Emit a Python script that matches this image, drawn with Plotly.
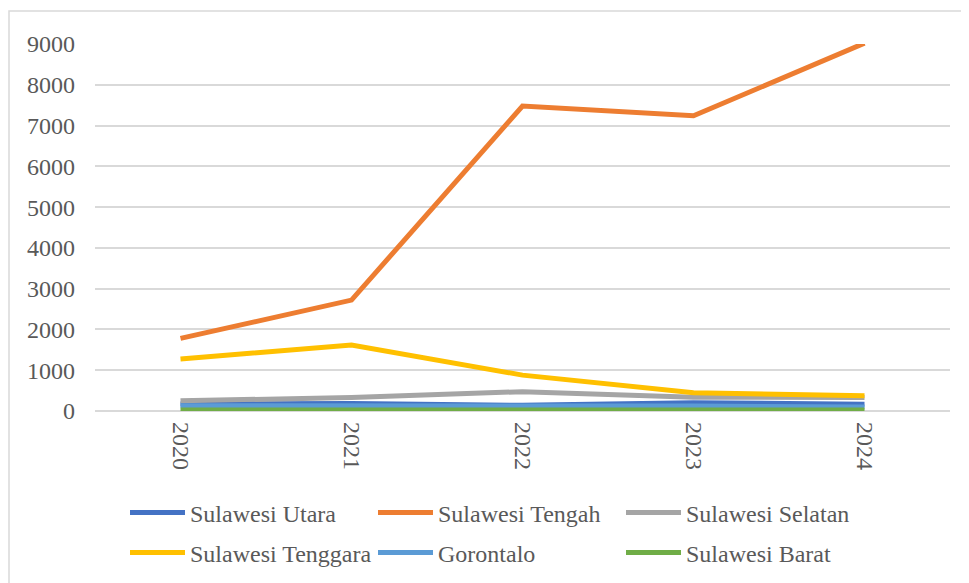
import plotly.graph_objects as go

years = ["2020", "2021", "2022", "2023", "2024"]

sulawesi_utara = [170, 185, 140, 205, 165]
sulawesi_tengah = [1780, 2720, 7480, 7240, 9020]
sulawesi_selatan = [250, 330, 475, 340, 330]
sulawesi_tenggara = [1275, 1620, 880, 450, 375]
gorontalo = [130, 130, 150, 120, 100]
sulawesi_barat = [25, 25, 25, 25, 25]

series = [
    ("Sulawesi Utara", sulawesi_utara, "#4472C4", "legend"),
    ("Sulawesi Tengah", sulawesi_tengah, "#ED7D31", "legend"),
    ("Sulawesi Selatan", sulawesi_selatan, "#A5A5A5", "legend"),
    ("Sulawesi Tenggara", sulawesi_tenggara, "#FFC000", "legend2"),
    ("Gorontalo", gorontalo, "#5B9BD5", "legend2"),
    ("Sulawesi Barat", sulawesi_barat, "#70AD47", "legend2"),
]

fig = go.Figure()
for name, vals, color, leg in series:
    fig.add_trace(go.Scatter(x=years, y=vals, name=name, mode="lines", legend=leg,
                             line=dict(color=color, width=5)))

SERIF = "Liberation Serif"
GREY = "#595959"


def serif_font():
    return dict(family=SERIF, size=24, color=GREY)


def legend_box(y_px):
    # one legend per row so the row spacing matches the original
    return dict(
        orientation="h",
        x=(125 - 95) / 855, y=(411 - y_px) / 367,
        xanchor="left", yanchor="middle",
        entrywidth=178, entrywidthmode="pixels",
        itemwidth=55,
        font=serif_font(),
        bgcolor="rgba(0,0,0,0)",
    )


fig.update_layout(
    template="none",
    width=969, height=583,
    margin=dict(l=87, r=27, t=36, b=180, autoexpand=False),
    paper_bgcolor="white",
    plot_bgcolor="white",
    font=serif_font(),
    showlegend=True,
    legend=legend_box(513),
    legend2=legend_box(553),
    xaxis=dict(
        type="category",
        range=[-0.5, 4.5],
        showgrid=False,
        showline=False,
        zeroline=False,
        tickangle=90,
        ticks="",
        ticklabelstandoff=10,
        automargin=False,
        tickfont=serif_font(),
    ),
    yaxis=dict(
        range=[0, 9000],
        dtick=1000,
        showgrid=True,
        gridcolor="#d9d9d9",
        gridwidth=1.5,
        zeroline=True,
        zerolinecolor="#d9d9d9",
        zerolinewidth=1.5,
        showline=False,
        ticks="",
        ticklabelstandoff=19,
        automargin=False,
        tickfont=serif_font(),
    ),
    shapes=[dict(
        type="rect", xref="paper", yref="paper",
        x0=(9 - 95) / 855, x1=(990 - 95) / 855,
        y0=(411 - 600) / 367, y1=(411 - 11) / 367,
        line=dict(color="#d9d9d9", width=1.5),
        fillcolor="rgba(0,0,0,0)",
        layer="below",
    )],
)

fig.write_html("out.html")
